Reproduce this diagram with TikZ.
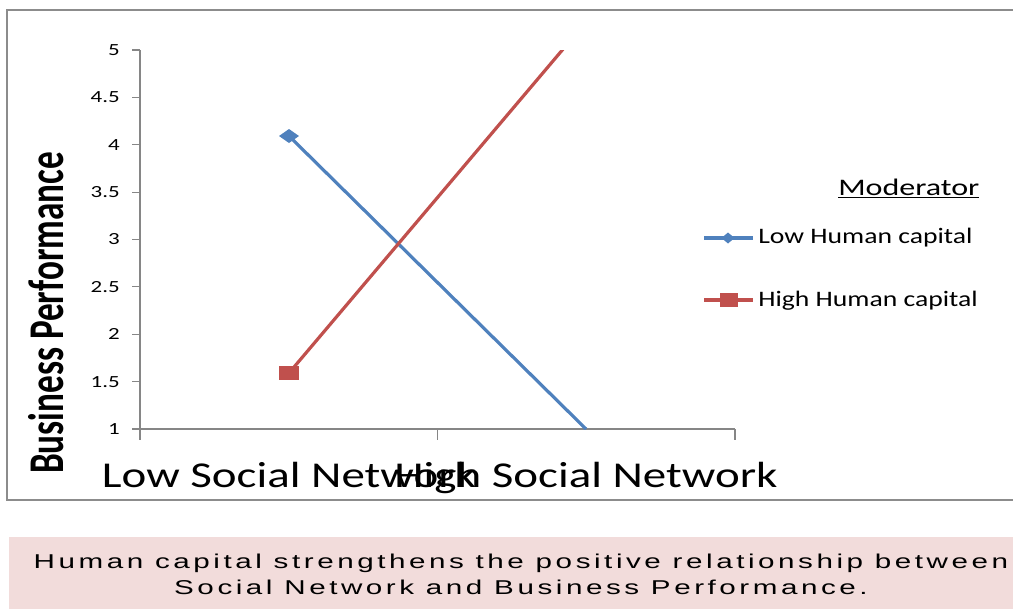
\documentclass[tikz,border=0pt]{standalone}
\usepackage{fontspec}
\setmainfont{Carlito}
\newfontfamily\notefont[LetterSpace=12]{Liberation Sans}
\usepackage{graphicx}

\definecolor{lowblue}{HTML}{4F81BD}
\definecolor{highred}{HTML}{C0504D}
\definecolor{axisgray}{HTML}{868686}
\definecolor{framegray}{HTML}{8C8C8C}
\definecolor{notepink}{HTML}{F2DCDB}

% the chart was stretched sideways, so the texts are too
\newcommand{\wide}[2][1.3]{\scalebox{#1}[1]{#2}}

\tikzset{
  tick label/.style={anchor=east, inner sep=0pt, font=\fontsize{12.75}{14}\selectfont},
  cat label/.style={anchor=base, inner sep=0pt, font=\fontsize{27.3}{30}\selectfont},
  key label/.style={anchor=base west, inner sep=0pt, font=\fontsize{16.6}{18}\selectfont},
  note line/.style={anchor=base, inner sep=0pt, font=\notefont\fontsize{15}{17}\selectfont},
  axis line/.style={draw=axisgray, line width=0.9pt},
  lowline/.style={draw=lowblue, line width=2.4pt},
  highline/.style={draw=highred, line width=2.4pt},
}

\begin{document}
\begin{tikzpicture}[x=0.75pt,y=-0.75pt]
\useasboundingbox (0,0) rectangle (1013,608);

% frame of the chart
\draw[framegray, line width=1.5pt] (7,10) rectangle (1030,500);

% axes
\draw[axis line] (140,50) -- (140,440);
\draw[axis line] (140,429) -- (735,429);
\foreach \v in {1,1.5,2,2.5,3,3.5,4,4.5,5} {
  \draw[axis line] (132,{429-(\v-1)*94.75}) -- (140,{429-(\v-1)*94.75});
  \node[tick label] at (120,{429-(\v-1)*94.75}) {\wide[1.35]{\v}};
}
\foreach \x in {140,437.5,735}
  \draw[axis line] (\x,429) -- (\x,440);

\node[rotate=90, inner sep=0pt, font=\bfseries\fontsize{26.4}{30}\selectfont] (perf) at (46,313) {\scalebox{1}[1.42]{Business Performance}};
\node[cat label] (lowcat) at (289,487) {\wide[1.29]{Low Social Network}};
\node[cat label] (highcat) at (586,487) {\wide[1.29]{High Social Network}};

% the two series
\coordinate (low1) at (289,136);
\coordinate (low2) at (586,429);
\coordinate (high1) at (289,373);
\coordinate (high2) at (586,22);
\begin{scope}
  \clip (140,50) rectangle (735,429);
  \draw[lowline] (low1) -- (low2);
  \draw[highline] (high1) -- (high2);
\end{scope}
\fill[lowblue] (low1) +(-10,0) -- +(0,-7) -- +(10,0) -- +(0,7) -- cycle;
\fill[highred] (high1) +(-10,-7) rectangle +(10,7);

% legend
\node[anchor=base west, inner sep=0pt, font=\fontsize{17.8}{20}\selectfont] (modtitle) at (838,195) {\wide[1.35]{\underline{Moderator}}};
\coordinate (lowkeyA) at (704,238);
\coordinate (lowkeyB) at (753,238);
\draw[lowline] (lowkeyA) -- (lowkeyB);
\fill[lowblue] (728,238) +(-6.5,0) -- +(0,-5.5) -- +(6.5,0) -- +(0,5.5) -- cycle;
\node[key label] (lowkey) at (758,243) {\wide[1.25]{Low Human capital}};
\coordinate (highkeyA) at (704,300);
\coordinate (highkeyB) at (753,300);
\draw[highline] (highkeyA) -- (highkeyB);
\fill[highred] (729,300) +(-9,-7) rectangle +(9,7);
\node[key label] (highkey) at (758,306) {\wide[1.25]{High Human capital}};

% note under the chart
\fill[notepink] (9,537) rectangle (1030,620);
\node[note line] (note1) at (521,568) {\wide[1.48]{Human capital strengthens the positive relationship between}};
\node[note line] (note2) at (521,594) {\wide[1.48]{Social Network and Business Performance.}};
\end{tikzpicture}
\end{document}
